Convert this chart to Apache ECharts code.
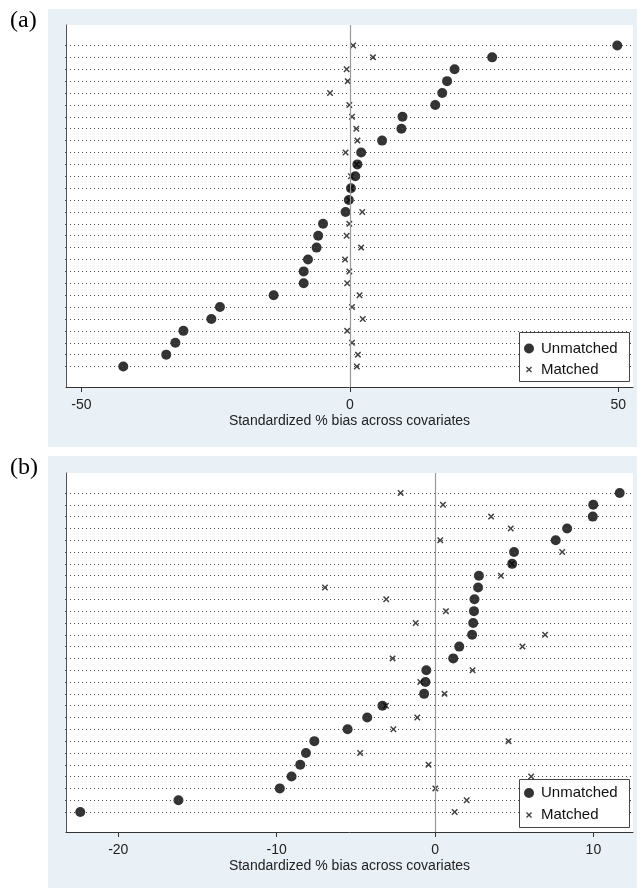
<!DOCTYPE html>
<html>
<head>
<meta charset="utf-8">
<script src="https://cdn.jsdelivr.net/npm/echarts@6/dist/echarts.min.js"></script>
<style>
html,body{margin:0;padding:0;background:#ffffff;}
#c{width:640px;height:888px;}
</style>
</head>
<body>
<div id="c"></div>
<script>
// ---- data (rows listed top to bottom) ----
const rows = [1,2,3,4,5,6,7,8,9,10,11,12,13,14,15,16,17,18,19,20,21,22,23,24,25,26,27,28];
const unmatchedA = [49.8, 26.5, 19.5, 18.1, 17.2, 15.9, 9.8, 9.6, 6.0, 2.1, 1.4, 1.0, 0.2, -0.2, -0.8, -5.0, -5.9, -6.2, -7.8, -8.6, -8.6, -14.2, -24.2, -25.8, -31.0, -32.5, -34.2, -42.2];
const matchedA   = [0.6, 4.3, -0.6, -0.4, -3.7, -0.1, 0.4, 1.2, 1.4, -0.8, 1.3, 0.2, 0.2, -0.1, 2.3, -0.1, -0.6, 2.1, -0.9, -0.1, -0.5, 1.8, 0.4, 2.4, -0.5, 0.4, 1.5, 1.3];
const unmatchedB = [11.66, 9.99, 9.96, 8.34, 7.62, 4.99, 4.87, 2.77, 2.72, 2.49, 2.46, 2.41, 2.34, 1.53, 1.15, -0.55, -0.60, -0.69, -3.32, -4.28, -5.52, -7.62, -8.15, -8.51, -9.06, -9.80, -16.2, -22.4];
const matchedB   = [-2.17, 0.50, 3.54, 4.78, 0.33, 8.03, 4.85, 4.16, -6.95, -3.08, 0.69, -1.22, 6.95, 5.52, -2.68, 2.37, -0.93, 0.60, -3.1, -1.12, -2.63, 4.64, -4.73, -0.41, 6.07, 0.02, 2.0, 1.24];
const ticksA = [-50, 0, 50];
const ticksB = [-20, -10, 0, 10];
const legendNames = ['Unmatched', 'Matched'];
const panelLabels = ['(a)', '(b)'];
const xTitle = 'Standardized % bias across covariates';

// ---- styling / layout ----
const SANS = 'Liberation Sans, Arial, sans-serif';
const SERIF = 'Liberation Serif, Times New Roman, serif';
const BG = '#E9F1F7';
const XPATH = 'path://M0,1.6L1.6,0L5,3.4L8.4,0L10,1.6L6.6,5L10,8.4L8.4,10L5,6.6L1.6,10L0,8.4L3.4,5Z';

const panels = [
  {top: 25, height: 362, xmin: -52.87, xmax: 52.73, ymin: -0.72, ymax: 29.72, ticks: ticksA,
   un: unmatchedA, ma: matchedA, bg: [48, 9, 589, 438], lab: 21, leg: [519, 332, 110, 49], legY: [348.5, 369.5]},
  {top: 473, height: 359, xmin: -23.3, xmax: 12.5, ymin: -0.69, ymax: 29.69, ticks: ticksB,
   un: unmatchedB, ma: matchedB, bg: [48, 456, 589, 432], lab: 468, leg: [519, 779, 110, 48], legY: [793, 815]}
];

const grid = [], xAxis = [], yAxis = [], series = [], legend = [], graphic = [];

panels.forEach((p, i) => {
  grid.push({left: 66, top: p.top, width: 567, height: p.height, containLabel: false});
  xAxis.push({
    gridIndex: i, type: 'value', min: p.xmin, max: p.xmax,
    axisLine: {show: true, onZero: false, lineStyle: {color: '#333', width: 1}},
    axisTick: {show: true, customValues: p.ticks, length: 5, inside: false, lineStyle: {color: '#333', width: 1}},
    axisLabel: {show: true, customValues: p.ticks, fontSize: 14, color: '#222', fontFamily: SANS, margin: 11},
    splitLine: {show: false},
    name: xTitle, nameLocation: 'middle', nameGap: 27,
    nameTextStyle: {fontSize: 14, color: '#222', fontFamily: SANS}
  });
  yAxis.push({
    gridIndex: i, type: 'value', inverse: true, min: p.ymin, max: p.ymax,
    axisLine: {show: true, onZero: false, lineStyle: {color: '#555', width: 1}},
    axisTick: {show: true, customValues: rows, length: 4, lineStyle: {color: '#555', width: 1, type: [1, 3]}},
    axisLabel: {show: false},
    splitLine: {show: false}
  });
  const lineData = rows.map(r => ({yAxis: r}));
  lineData.push({xAxis: 0, lineStyle: {type: 'solid', color: '#999', width: 1.2}});
  series.push({
    name: legendNames[1], type: 'scatter', xAxisIndex: i, yAxisIndex: i,
    symbol: XPATH, symbolSize: 6.5,
    itemStyle: {color: '#111'},
    data: p.ma.map((v, k) => [v, rows[k]]),
    z: 2,
    markLine: {
      silent: true, symbol: 'none', animation: false,
      label: {show: false},
      emphasis: {disabled: true},
      lineStyle: {type: [1, 3], color: '#4a4a4a', width: 1},
      data: lineData
    }
  });
  series.push({
    name: legendNames[0], type: 'scatter', xAxisIndex: i, yAxisIndex: i,
    symbol: 'circle', symbolSize: 10,
    itemStyle: {color: '#000'},
    data: p.un.map((v, k) => [v, rows[k]]),
    z: 3
  });
  // backgrounds
  graphic.push({type: 'rect', z: -20, silent: true,
    shape: {x: p.bg[0], y: p.bg[1], width: p.bg[2], height: p.bg[3]},
    style: {fill: BG}});
  graphic.push({type: 'rect', z: -10, silent: true,
    shape: {x: 66, y: p.top, width: 567, height: p.height},
    style: {fill: '#ffffff'}});
  // panel label
  graphic.push({type: 'text', x: 10, y: p.lab, z: 5, silent: true,
    style: {text: panelLabels[i], fill: '#000', font: '24px ' + SERIF, textVerticalAlign: 'middle', verticalAlign: 'middle'}});
  // legend box
  graphic.push({type: 'rect', z: 10, silent: true,
    shape: {x: p.leg[0] + 0.5, y: p.leg[1] + 0.5, width: p.leg[2], height: p.leg[3]},
    style: {fill: '#ffffff', stroke: '#444', lineWidth: 1}});
  legend.push({
    data: [legendNames[0]], left: 524, top: p.legY[0] - 8, padding: 0,
    itemWidth: 10, itemHeight: 10, z: 20, selectedMode: false,
    textStyle: {fontSize: 15, color: '#111', fontFamily: SANS, lineHeight: 16, padding: [0, 0, 0, 2]}
  });
  legend.push({
    data: [legendNames[1]], left: 526, top: p.legY[1] - 8, padding: 0,
    itemWidth: 6, itemHeight: 6, z: 20, selectedMode: false,
    textStyle: {fontSize: 15, color: '#111', fontFamily: SANS, lineHeight: 16, padding: [0, 0, 0, 4]}
  });
});

const chart = echarts.init(document.getElementById('c'), null, {renderer: 'canvas'});
chart.setOption({
  animation: false,
  backgroundColor: '#ffffff',
  grid, xAxis, yAxis, series, legend, graphic
});
</script>
</body>
</html>
